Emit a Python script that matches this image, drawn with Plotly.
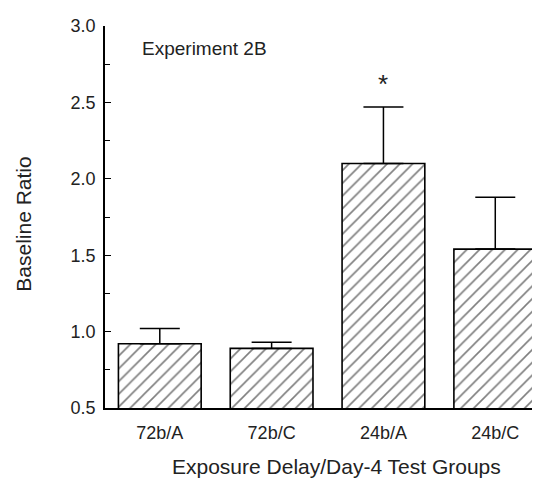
import plotly.graph_objects as go

groups = ["72b/A", "72b/C", "24b/A", "24b/C"]
ratio_mean = [0.92, 0.89, 2.10, 1.54]
ratio_err = [0.10, 0.04, 0.37, 0.34]
y_ticks = [0.5, 1.0, 1.5, 2.0, 2.5, 3.0]
y_tick_text = ["0.5", "1.0", "1.5", "2.0", "2.5", "3.0"]

FONT = "Liberation Sans, Arial, Helvetica, sans-serif"

fig = go.Figure()
fig.add_trace(go.Bar(
    x=groups,
    y=ratio_mean,
    base=0,
    width=0.74,
    marker=dict(
        color="white",
        line=dict(color="black", width=1.6),
        pattern=dict(shape="/", fgcolor="black", bgcolor="white", size=9, solidity=0.18),
    ),
    error_y=dict(type="data", array=ratio_err, arrayminus=[0] * len(ratio_err),
                 symmetric=False, color="black", thickness=1.5, width=20),
    showlegend=False,
))

fig.update_layout(
    width=540, height=480,
    margin=dict(l=97, r=8, t=14, b=80),
    paper_bgcolor="white", plot_bgcolor="white",
    font=dict(family=FONT, color="#222", size=17),
    xaxis=dict(
        range=[-0.49, 3.40],
        showline=True, linecolor="black", linewidth=1.5,
        ticks="outside", ticklen=8, tickcolor="rgba(0,0,0,0)",
        tickfont=dict(size=18, family=FONT, color="#222"),
        showgrid=False, zeroline=False,
    ),
    yaxis=dict(
        range=[0.5, 3.0],
        tickvals=y_ticks, ticktext=y_tick_text,
        showline=True, linecolor="black", linewidth=1.5,
        ticks="inside", ticklen=6, tickwidth=1.3, tickcolor="black",
        minor=dict(dtick=0.25, ticks="inside", ticklen=5, tickwidth=1.2, tickcolor="black"),
        tickfont=dict(size=18, family=FONT, color="#222"),
        ticklabelstandoff=4,
        showgrid=False, zeroline=False,
    ),
    annotations=[
        dict(text="Experiment 2B", xref="paper", yref="paper", x=0.08, y=0.94,
             xanchor="left", yanchor="middle", showarrow=False,
             font=dict(size=19, family=FONT, color="#222")),
        dict(text="*", xref="x", yref="y", x="24b/A", y=2.62,
             xanchor="center", yanchor="middle", showarrow=False,
             font=dict(size=26, family=FONT, color="#222")),
        dict(text="Baseline Ratio", xref="paper", yref="paper", x=-0.186, y=0.48,
             xanchor="center", yanchor="middle", textangle=-90, showarrow=False,
             font=dict(size=21, family=FONT, color="#222")),
        dict(text="Exposure Delay/Day-4 Test Groups", xref="paper", yref="paper",
             x=0.533, y=-0.153, xanchor="center", yanchor="middle", showarrow=False,
             font=dict(size=21, family=FONT, color="#222")),
    ],
)

fig.write_html("out.html")
